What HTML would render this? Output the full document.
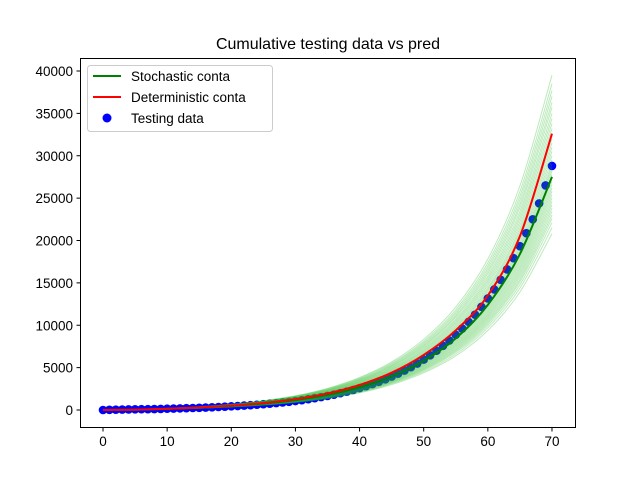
<!DOCTYPE html>
<html><head><meta charset="utf-8"><style>
body{margin:0;background:#fff;}
svg{display:block;font-family:"Liberation Sans","DejaVu Sans",sans-serif;}
</style></head><body>
<svg id="chart" width="640" height="480">
<rect width="640" height="480" fill="#fff"/>
<text x="328" y="49" text-anchor="middle" font-size="16">Cumulative testing data vs pred</text>
<g id="plot"></g>
<rect x="80.5" y="58.5" width="495" height="369" fill="none" stroke="#000" stroke-width="1"/>
<g id="xticks"></g>
<g id="yticks"></g>
<g>
<rect x="87.5" y="65.5" width="185" height="66" rx="3" fill="#fff" fill-opacity="0.8" stroke="#ccc"/>
<line x1="93" y1="76" x2="121" y2="76" stroke="green" stroke-width="2"/>
<text x="131" y="81" font-size="13.5">Stochastic conta</text>
<line x1="93" y1="97" x2="121" y2="97" stroke="red" stroke-width="2"/>
<text x="131" y="102" font-size="13.5">Deterministic conta</text>
<circle cx="107" cy="118" r="4.5" fill="blue"/>
<text x="131" y="123" font-size="13.5">Testing data</text>
</g>
</svg>
<script>
const gridX = [0,5,10,15,20,25,30,35,40,45,50,55,60,65,70];
const redVals = [0,50,150,300,520,830,1280,1950,2950,4400,6500,9400,13500,20500,32600];
const greenMean = [0,40,130,270,470,760,1170,1780,2680,3950,5800,8450,12400,18400,27500];
const ensembleEnds = [20800,21500,22100,22600,23000,23400,23800,24200,24600,25000,25400,25800,26200,26600,27000,27400,27800,28200,28600,29000,29500,30000,30500,31000,31500,32000,32600,33200,33800,34400,35000,35700,36300,37000,37700,38500,39500];
const testX = Array.from({length:71},(_, i)=>i);
const testY = [0,20,40,55,70,80,90,100,115,130,150,170,190,210,235,260,290,320,355,390,430,470,520,570,620,680,740,810,890,970,1060,1160,1270,1390,1520,1660,1810,1980,2160,2360,2580,2810,3060,3330,3620,3940,4280,4650,5050,5480,5950,6450,6990,7570,8200,8880,9610,10400,11250,12170,13160,14220,15360,16590,17910,19330,20860,22500,24380,26500,28800];
const xTicks = [0,10,20,30,40,50,60,70];
const yTicks = [0,5000,10000,15000,20000,25000,30000,35000,40000];

const NS="http://www.w3.org/2000/svg";
const sx = v => 103 + v*6.414;
const sy = v => 410 - v*0.008475;
const plot = document.getElementById('plot');
function mk(tag, attrs, parent){const e=document.createElementNS(NS,tag);for(const k in attrs)e.setAttribute(k,attrs[k]);parent.appendChild(e);return e;}
function pathOf(xs, ys){
  const P = xs.map((x,i)=>[sx(x), sy(ys[i])]);
  let d = 'M'+P[0][0].toFixed(1)+','+P[0][1].toFixed(1);
  for(let i=0;i<P.length-1;i++){
    const p0=P[Math.max(0,i-1)], p1=P[i], p2=P[i+1], p3=P[Math.min(P.length-1,i+2)];
    const c1=[p1[0]+(p2[0]-p0[0])/6, p1[1]+(p2[1]-p0[1])/6];
    const c2=[p2[0]-(p3[0]-p1[0])/6, p2[1]-(p3[1]-p1[1])/6];
    d+='C'+c1[0].toFixed(1)+','+c1[1].toFixed(1)+' '+c2[0].toFixed(1)+','+c2[1].toFixed(1)+' '+p2[0].toFixed(1)+','+p2[1].toFixed(1);
  }
  return d;
}

testX.forEach((x,i)=>{
  const c = mk('circle',{cx:sx(x),cy:sy(testY[i]),r:4.3,fill:'blue'},plot);
  
  
});
ensembleEnds.forEach(end=>{
  const f = end/greenMean[greenMean.length-1];
  const p = mk('path',{d:pathOf(gridX, greenMean.map(v=>v*f)),fill:'none',stroke:'#22bb22','stroke-opacity':0.3,'stroke-width':1},plot);
  
  
});
const g = mk('path',{d:pathOf(gridX, greenMean),fill:'none',stroke:'green','stroke-width':2},plot);


const r = mk('path',{d:pathOf(gridX, redVals),fill:'none',stroke:'red','stroke-width':2},plot);



const xg=document.getElementById('xticks'), yg=document.getElementById('yticks');
xTicks.forEach(t=>{
  const l = mk('line',{x1:sx(t),x2:sx(t),y1:427.5,y2:431.5,stroke:'#000'},xg);
  
  
  const tx = mk('text',{x:sx(t),y:446,'text-anchor':'middle','font-size':13.5},xg);
  tx.textContent=t;
  
  
});
yTicks.forEach(t=>{
  const l = mk('line',{x1:76.5,x2:80.5,y1:sy(t),y2:sy(t),stroke:'#000'},yg);
  
  
  const tx = mk('text',{x:73,y:sy(t)+5,'text-anchor':'end','font-size':13.5},yg);
  tx.textContent=t;
  
  
});
</script>
</body></html>
